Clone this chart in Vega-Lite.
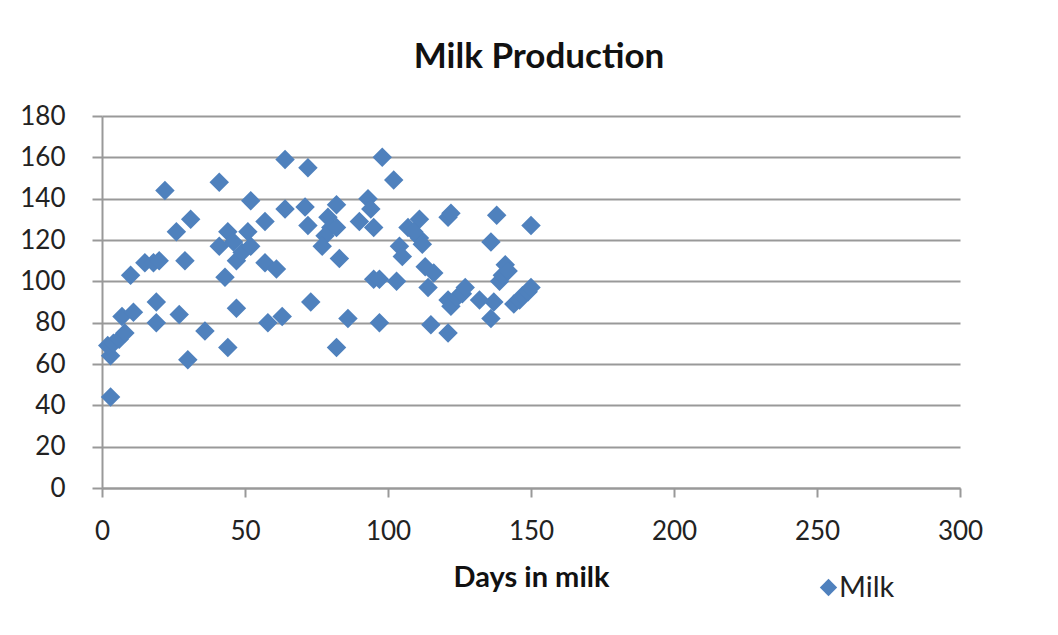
{
  "$schema": "https://vega.github.io/schema/vega-lite/v6.json",
  "width": 858,
  "height": 372,
  "autosize": "none",
  "padding": {"left": 102, "top": 116, "right": 98, "bottom": 147},
  "background": "white",
  "title": {
    "text": "Milk Production",
    "font": "Lato",
    "fontSize": 35,
    "fontWeight": "bold",
    "color": "#111111",
    "anchor": "middle",
    "dx": 8,
    "offset": 28
  },
  "data": {
    "values": [
      {"day": 3, "milk": 44, "series": "Milk"},
      {"day": 3, "milk": 64, "series": "Milk"},
      {"day": 2, "milk": 69, "series": "Milk"},
      {"day": 4, "milk": 70, "series": "Milk"},
      {"day": 6, "milk": 72, "series": "Milk"},
      {"day": 8, "milk": 75, "series": "Milk"},
      {"day": 7, "milk": 83, "series": "Milk"},
      {"day": 11, "milk": 85, "series": "Milk"},
      {"day": 10, "milk": 103, "series": "Milk"},
      {"day": 15, "milk": 109, "series": "Milk"},
      {"day": 18, "milk": 109, "series": "Milk"},
      {"day": 20, "milk": 110, "series": "Milk"},
      {"day": 19, "milk": 90, "series": "Milk"},
      {"day": 19, "milk": 80, "series": "Milk"},
      {"day": 22, "milk": 144, "series": "Milk"},
      {"day": 26, "milk": 124, "series": "Milk"},
      {"day": 27, "milk": 84, "series": "Milk"},
      {"day": 29, "milk": 110, "series": "Milk"},
      {"day": 30, "milk": 62, "series": "Milk"},
      {"day": 31, "milk": 130, "series": "Milk"},
      {"day": 36, "milk": 76, "series": "Milk"},
      {"day": 41, "milk": 148, "series": "Milk"},
      {"day": 41, "milk": 117, "series": "Milk"},
      {"day": 43, "milk": 102, "series": "Milk"},
      {"day": 44, "milk": 124, "series": "Milk"},
      {"day": 46, "milk": 119, "series": "Milk"},
      {"day": 44, "milk": 68, "series": "Milk"},
      {"day": 47, "milk": 87, "series": "Milk"},
      {"day": 47, "milk": 110, "series": "Milk"},
      {"day": 49, "milk": 114, "series": "Milk"},
      {"day": 51, "milk": 124, "series": "Milk"},
      {"day": 52, "milk": 117, "series": "Milk"},
      {"day": 52, "milk": 139, "series": "Milk"},
      {"day": 57, "milk": 129, "series": "Milk"},
      {"day": 57, "milk": 109, "series": "Milk"},
      {"day": 58, "milk": 80, "series": "Milk"},
      {"day": 61, "milk": 106, "series": "Milk"},
      {"day": 63, "milk": 83, "series": "Milk"},
      {"day": 64, "milk": 159, "series": "Milk"},
      {"day": 64, "milk": 135, "series": "Milk"},
      {"day": 71, "milk": 136, "series": "Milk"},
      {"day": 72, "milk": 155, "series": "Milk"},
      {"day": 72, "milk": 127, "series": "Milk"},
      {"day": 73, "milk": 90, "series": "Milk"},
      {"day": 79, "milk": 131, "series": "Milk"},
      {"day": 82, "milk": 137, "series": "Milk"},
      {"day": 80, "milk": 126, "series": "Milk"},
      {"day": 82, "milk": 126, "series": "Milk"},
      {"day": 78, "milk": 122, "series": "Milk"},
      {"day": 77, "milk": 117, "series": "Milk"},
      {"day": 83, "milk": 111, "series": "Milk"},
      {"day": 82, "milk": 68, "series": "Milk"},
      {"day": 86, "milk": 82, "series": "Milk"},
      {"day": 90, "milk": 129, "series": "Milk"},
      {"day": 93, "milk": 140, "series": "Milk"},
      {"day": 94, "milk": 135, "series": "Milk"},
      {"day": 95, "milk": 126, "series": "Milk"},
      {"day": 95, "milk": 101, "series": "Milk"},
      {"day": 97, "milk": 101, "series": "Milk"},
      {"day": 97, "milk": 80, "series": "Milk"},
      {"day": 98, "milk": 160, "series": "Milk"},
      {"day": 102, "milk": 149, "series": "Milk"},
      {"day": 103, "milk": 100, "series": "Milk"},
      {"day": 104, "milk": 117, "series": "Milk"},
      {"day": 105, "milk": 112, "series": "Milk"},
      {"day": 107, "milk": 126, "series": "Milk"},
      {"day": 111, "milk": 130, "series": "Milk"},
      {"day": 111, "milk": 121, "series": "Milk"},
      {"day": 109, "milk": 124, "series": "Milk"},
      {"day": 112, "milk": 118, "series": "Milk"},
      {"day": 113, "milk": 107, "series": "Milk"},
      {"day": 114, "milk": 97, "series": "Milk"},
      {"day": 115, "milk": 79, "series": "Milk"},
      {"day": 116, "milk": 104, "series": "Milk"},
      {"day": 121, "milk": 75, "series": "Milk"},
      {"day": 121, "milk": 131, "series": "Milk"},
      {"day": 122, "milk": 133, "series": "Milk"},
      {"day": 121, "milk": 91, "series": "Milk"},
      {"day": 122, "milk": 88, "series": "Milk"},
      {"day": 124, "milk": 92, "series": "Milk"},
      {"day": 126, "milk": 94, "series": "Milk"},
      {"day": 127, "milk": 97, "series": "Milk"},
      {"day": 132, "milk": 91, "series": "Milk"},
      {"day": 136, "milk": 119, "series": "Milk"},
      {"day": 136, "milk": 82, "series": "Milk"},
      {"day": 137, "milk": 90, "series": "Milk"},
      {"day": 138, "milk": 132, "series": "Milk"},
      {"day": 139, "milk": 100, "series": "Milk"},
      {"day": 140, "milk": 103, "series": "Milk"},
      {"day": 141, "milk": 108, "series": "Milk"},
      {"day": 142, "milk": 105, "series": "Milk"},
      {"day": 144, "milk": 89, "series": "Milk"},
      {"day": 146, "milk": 91, "series": "Milk"},
      {"day": 147, "milk": 93, "series": "Milk"},
      {"day": 149, "milk": 95, "series": "Milk"},
      {"day": 150, "milk": 97, "series": "Milk"},
      {"day": 150, "milk": 127, "series": "Milk"}
    ]
  },
  "mark": {"type": "point", "shape": "diamond", "filled": true, "size": 380, "opacity": 1},
  "encoding": {
    "x": {
      "field": "day",
      "type": "quantitative",
      "scale": {"domain": [0, 300], "nice": false, "zero": true},
      "axis": {
        "title": "Days in milk",
        "titleFont": "Lato",
        "titleFontSize": 29,
        "titleFontWeight": "bold",
        "titleColor": "#111111",
        "titlePadding": 19,
        "values": [0, 50, 100, 150, 200, 250, 300],
        "labelFont": "Lato",
        "labelFontSize": 26,
        "labelColor": "#222222",
        "labelPadding": 21,
        "grid": false,
        "domainColor": "#999999",
        "domainWidth": 2,
        "tickColor": "#999999",
        "tickWidth": 2,
        "tickSize": 9
      }
    },
    "y": {
      "field": "milk",
      "type": "quantitative",
      "scale": {"domain": [0, 180], "nice": false},
      "axis": {
        "title": null,
        "values": [0, 20, 40, 60, 80, 100, 120, 140, 160, 180],
        "labelFont": "Lato",
        "labelFontSize": 26,
        "labelColor": "#222222",
        "labelPadding": 27,
        "grid": true,
        "gridColor": "#999999",
        "gridWidth": 2,
        "domainColor": "#999999",
        "domainWidth": 2,
        "tickColor": "#999999",
        "tickWidth": 2,
        "tickSize": 10
      }
    },
    "color": {
      "field": "series",
      "type": "nominal",
      "scale": {"range": ["#4f81bd"]},
      "legend": {
        "title": null,
        "orient": "none",
        "legendX": 712,
        "legendY": 457,
        "symbolType": "diamond",
        "symbolSize": 300,
        "symbolOpacity": 1,
        "labelFont": "Lato",
        "labelFontSize": 29,
        "labelColor": "#222222",
        "labelOffset": -4
      }
    }
  },
  "config": {
    "view": {"stroke": null},
    "axis": {"labelFlush": false}
  }
}
